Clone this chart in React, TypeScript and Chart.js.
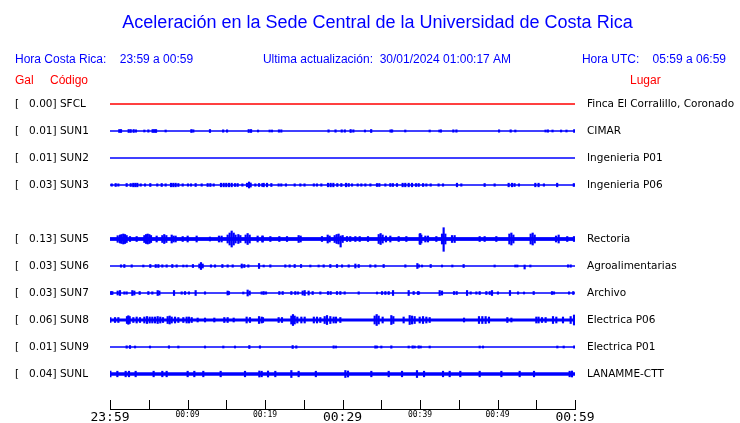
import React, { useEffect, useRef } from 'react';
import { Chart, registerables } from 'chart.js';
Chart.register(...registerables);

const TITLE = 'Aceleración en la Sede Central de la Universidad de Costa Rica';
const HORA_CR = 'Hora Costa Rica:    23:59 a 00:59';
const ULTIMA = 'Ultima actualización:  30/01/2024 01:00:17 AM';
const HORA_UTC = 'Hora UTC:    05:59 a 06:59';
const COL_GAL = 'Gal';
const COL_CODE = 'Código';
const COL_PLACE = 'Lugar';

const CODES = ['SFCL', 'SUN1', 'SUN2', 'SUN3', 'SUN5', 'SUN6', 'SUN7', 'SUN8', 'SUN9', 'SUNL'];
const GAL = [0.0, 0.01, 0.01, 0.03, 0.13, 0.03, 0.03, 0.06, 0.01, 0.04];
const PLACES = ['Finca El Corralillo, Coronado', 'CIMAR', 'Ingenieria P01', 'Ingenieria P06', 'Rectoria', 'Agroalimentarias', 'Archivo', 'Electrica P06', 'Electrica P01', 'LANAMME-CTT'];
const ROWS = [0, 1, 2, 3, 5, 6, 7, 8, 9, 10];
const TRACE_COLORS = ['#ff0000', '#0000ff', '#0000ff', '#0000ff', '#0000ff', '#0000ff', '#0000ff', '#0000ff', '#0000ff', '#0000ff'];
// background noise half-width (counts)
const NOISE = [0, 0, 0, 0, 1.35, 0, 0, 1.0, 0, 1.15];
const COUNTS_PER_ROW = 27;

// time axis, minutes after 23:59
const TICK_MINUTES = [0, 5, 10, 15, 20, 25, 30, 35, 40, 45, 50, 55, 60];
const LABEL_MINUTES = [0, 10, 20, 30, 40, 50, 60];
const TIME_LABELS = ['23:59', '00:09', '00:19', '00:29', '00:39', '00:49', '00:59'];
const BIG_LABELS = ['23:59', '00:29', '00:59'];

// bursts: [minute, half-amplitude up, optional half-amplitude down] (counts)
const SFCL_BURSTS: number[][] = [];
const SUN1_BURSTS = [[1.2,1.5],[1.42,1.5],[2.41,1.5],[2.67,1.5],[3.05,1.5],[3.35,1.2],[4.43,1],[4.95,1.2],[5.5,1.5],[5.72,1.5],[5.94,1.5],[7.18,1],[10.5,1.5],[10.75,1.2],[12.9,1.5],[14.6,1.2],[15.1,1.2],[17.9,1.5],[18.2,1.5],[19.1,1],
[20.6,1],[20.9,1],[21.8,1.2],[22.1,1.2],[28.2,1.2],[29.1,1.2],[29.9,1.2],[30.3,1.2],[31.05,1.5],[31.4,1.2],[32.9,1],[33.7,1.5],[36.2,1.2],[36.4,1.2],[38.1,1],
[41.25,1],[42.5,1],[42.7,1.2],[44.3,1.2],[44.7,1.2],[50.2,1.2],[51.7,1.2],[52.3,1],[56.2,1],[56.5,1.2],[57.1,1],[58.2,1],[58.9,1],[59.9,1.5]];
const SUN2_BURSTS: number[][] = [];
const SUN3_BURSTS = [[0.22,1.2],[0.73,1.5],[1.08,1.2],[2.15,1.5],[2.67,1.5],[3.0,1.8],[3.27,1.8],[3.53,1.8],[3.96,1.2],[4.52,1.2],[5.2,1.5],[6.1,1.2],[6.67,1.5],[7.18,1.2],[7.87,1.8],[8.17,1.8],[8.47,1.8],[8.82,1.5],[9.38,1.2],[10.06,1.2],[10.45,1.2],[11.05,1.5],[11.83,1.2],[12.6,1.5],[12.95,1.5],[13.38,1.2],[14.32,1.8],[14.67,1.8],[15.0,1.8],[15.35,1.8],[15.7,1.8],[16.13,1.5],[16.47,1.5],[17.08,1.2],[17.68,1.8],[17.94,3],[18.15,2],[18.75,1.2],[19.23,1.5],[19.66,1.5],
[19.83,1.8],[20.26,1.8],[20.82,1.5],[21.76,1.2],[22.1,1.2],[22.7,1.2],[23.83,1.2],[24.56,1.2],[25.1,1.2],[26.3,1.2],[26.7,1.2],[27.27,1.2],[28.13,1.8],[28.47,1.8],[28.82,1.8],[29.33,1.5],[29.85,1.5],[30.45,1.8],[30.8,1.5],[31.23,1.2],[31.96,1.2],[32.43,1.2],[32.95,1.2],[33.6,1.2],[34.45,1.5],[34.75,1.5],[35.53,1.2],[36.17,1.5],[36.5,1.5],[37.03,1.5],[37.76,1.8],[38.1,1.8],[38.54,1.8],[38.97,1.8],[39.48,1.5],[39.83,1.5],
[40.4,1.5],[40.82,1.2],[41.38,1.2],[42.4,1.2],[42.97,1.2],[44.77,1.8],[45.33,1.2],[48.34,1.5],[49.63,1.2],[51.44,1.8],[51.87,1.8],[52.2,1.5],[52.77,1.2],[54.88,1.8],[55.3,1.8],[55.99,1.2],[57.7,1.8],[59.85,1.5]];
const SUN5_BURSTS = [[0.99,3.3],[1.29,4],[1.5,4.5],[1.72,5],[1.94,4.5],[2.15,3.5],[2.58,2.5],[3.44,2.5],[4.43,3.5],[4.65,4.5],[4.86,5],[5.08,4.5],[5.29,3.5],[6.02,3],[6.75,3.5],[7.0,4.5],[7.27,3.5],[7.96,4],[8.2,3],[8.47,3],[9.38,2.5],[10.02,3],[11.18,3],[12.9,2],[14.06,3],[14.4,3],[15.18,4],[15.44,6],[15.7,8],[15.96,6],[16.2,4],[16.56,4.5],[16.82,3.5],[17.5,4],[17.76,5.5],[18.02,4],[19.05,3],[19.66,3],
[19.7,3],[20.69,2.5],[21.85,2.5],[22.84,2.5],[24.34,3.5],[24.6,3],[27.35,2.5],[28.09,4],[28.34,3],[28.99,3.5],[29.25,4.5],[29.5,5],[29.76,3,8],[30.02,3.5],[30.58,2.5],[31.0,2.5],[31.66,2.5],[32.22,2.5],[33.29,2.5],[34.67,4.5],[34.92,5.5],[35.18,4],[35.61,3],[36.17,3],[37.25,2.5],[38.24,2.5],
[39.96,5],[40.04,5.5],[40.17,4],[40.69,3],[41.03,3],[42.11,2.5],[42.84,5],[43.05,11.3,12.3],[43.27,5],[44.13,3.5],[44.47,3.5],[47.7,2.5],[48.34,2.5],[49.85,2.5],[51.53,5],[51.79,6],[52.05,4],[54.28,5],[54.54,6],[54.8,4],[57.55,3],[57.89,4],[59.0,2.5],[59.87,2.5]];
const SUN6_BURSTS = [[1.42,1.2],[1.85,1.5],[2.8,1.2],[4.3,1],[5.2,1.5],[5.9,1.5],[6.24,1.5],[6.75,1.2],[7.31,1.2],[8.04,1.5],[8.6,1.2],[9.46,1],[9.9,1],[10.7,1.5],[11.53,2],[11.74,3.5],[11.96,2],[13.03,1.2],[13.55,1.2],[14.5,1.5],[15.18,1.2],[15.83,1.2],[17.0,2],[17.33,1.5],[17.85,1.2],[19.23,2.5],
[19.83,1],[20.69,1.2],[22.62,1.2],[23.18,1.2],[23.83,1.5],[24.65,1.5],[25.85,1],[26.92,1],[27.57,1.2],[28.43,1.5],[29.29,1.5],[29.94,1.2],[30.8,1.2],[31.66,2],[32.09,1.5],[33.59,1.2],[34.24,1.2],[35.31,1.5],[38.11,1.2],[39.66,2.5],
[39.87,1.2],[40.26,1],[41.38,1.5],[42.84,1],[44.17,1],[45.63,1.5],[49.63,1],[52.3,1],[52.56,1],[53.5,1,3],[54.24,1],[59.1,1.2],[59.44,1.2]];
const SUN7_BURSTS = [[0.13,1.5],[0.3,1.5],[0.99,2],[1.29,2.5],[1.85,1.2],[2.15,1.2],[2.88,2.5],[3.14,2],[3.83,1.5],[4.95,1.5],[5.46,1.2],[6.15,2.5],[6.37,2],[8.26,2.5],[9.25,1.2],[9.68,1.5],[10.19,1.2],[11.05,2.5],[12.26,1.2],[15.18,2],[15.35,1.5],[17.2,1],[17.76,3],[18.02,2],[19.57,1.2],
[19.83,1.5],[20.13,1.2],[21.85,1.5],[22.28,1.5],[23.4,1.5],[23.91,1.5],[24.26,1.2],[24.86,2],[25.12,2.5],[25.63,2],[26.15,1.5],[27.14,1.2],[28.13,1.5],[28.47,1.5],[29.29,1.5],[29.72,1.5],[30.28,1.2],[32.09,1.2],[34.45,1],[35.1,1.5],[35.53,1.5],[35.96,1.5],[36.52,2.5],[38.54,2.5],[39.18,1.5],[39.74,1.5],
[39.87,1.2],[42.54,2.5],[42.84,2],[44.39,1.5],[44.73,1.5],[46.07,2.5],[46.54,1.2],[47.27,1.2],[47.7,1.5],[48.56,1.5],[49.0,1.5],[49.29,2.5],[50.06,1.2],[51.61,2.5],[52.65,1.2],[53.42,1],[54.67,1.5],[57.03,1.5],[57.29,1.2],[59.23,1.2],[59.78,1.5]];
const SUN8_BURSTS = [[0.05,2.5],[0.65,2.5],[1.08,2.5],[2.19,3.5],[2.37,4.3],[2.54,3.5],[3.01,2.5],[3.44,3],[3.87,2.5],[4.43,3],[4.77,3.5],[5.12,3],[5.46,3],[5.81,3],[6.15,3.5],[6.49,3],[6.84,2.5],[7.44,3.5],[7.7,4],[7.96,3],[8.39,3],[8.82,2.5],[9.46,2.5],[9.89,3],[10.19,3],[10.54,2.5],[11.31,2],[12.26,2],[13.46,2],[14.75,2.5],[15.18,2.5],[15.96,2],[17.63,3],[18.06,2.5],[19.23,3.5],[19.57,3],
[19.74,2.5],[21.76,2.5],[22.19,2.5],[23.4,4],[23.61,5.5],[23.83,4],[24.17,3],[24.69,3],[25.12,3],[26.3,3],[26.71,3],[27.14,2.5],[27.7,3.5],[28.0,4.5],[28.43,3.5],[28.86,3],[29.16,3],[29.72,2.5],[34.15,4],[34.41,5.5],[34.67,4],[35.18,3],[36.3,4.5],[36.56,3.5],[37.89,3],[38.67,4.5],[38.97,4],[39.31,3.5],
[39.96,3],[40.39,3.5],[40.82,3],[41.25,2.5],[45.68,2],[47.61,3.5],[48.04,3.5],[48.47,3.5],[48.9,3],[51.27,2.5],[51.79,2],[55.01,3],[55.3,3],[55.74,2.5],[56.21,2.5],[57.16,3.5],[57.59,3],[58.45,3],[59.44,3.5],[59.87,5]];
const SUN9_BURSTS = [[2.15,1.2],[2.58,1.5],[3.23,1],[5.16,1],[7.61,1.2],[8.82,1],[12.26,1],[14.62,1],[16.13,1],[17.98,1.5],[19.35,1.2],
[23.57,1.5],[24.04,1.2],[28.86,1.2],[29.16,1],[34.24,1.2],[34.45,1],[35.01,1],[36.3,1.2],[38.54,1],[39.05,1.2],[39.31,1],[39.83,1.2],
[40.09,1],[41.25,1],[47.7,1],[48.13,1],[57.72,1],[58.54,1],[59.9,1.2]];
const SUNL_BURSTS = [[0.05,3],[0.95,2.8],[2.02,2.8],[2.45,2.8],[3.31,2.8],[5.63,2.8],[6.75,2.8],[7.31,2.8],[10.02,2.8],[10.88,2.8],[12.04,2.8],[14.28,2.8],[17.42,2.8],[19.27,3],[19.57,2.8],
[20.39,3],[21.33,2.8],[23.4,3.5],[24.34,2.8],[26.56,2.8],[30.37,3.5],[30.71,3],[33.72,2.8],[35.96,2.8],[37.68,2.8],[39.61,3.5],
[40.52,2.8],[42.97,2.8],[43.83,2.8],[45.2,2.8],[47.7,2.8],[50.5,2.8],[52.86,2.8],[54.71,2.8],[59.31,2.8],[59.61,3]];

const BURSTS = [SFCL_BURSTS, SUN1_BURSTS, SUN2_BURSTS, SUN3_BURSTS, SUN5_BURSTS, SUN6_BURSTS, SUN7_BURSTS, SUN8_BURSTS, SUN9_BURSTS, SUNL_BURSTS];

const TEXT_BLUE = '#0000ff';
const TEXT_RED = '#ff0000';
const Y_MIN = -1;
const Y_MAX = 11.296;

function leftLabel(i: number) {
  return '[   ' + GAL[i].toFixed(2) + '] ' + CODES[i];
}

const headerPlugin = {
  id: 'header',
  afterDraw(chart: any) {
    const { ctx, chartArea } = chart;
    ctx.save();
    ctx.font = '12px "Liberation Sans", Arial, sans-serif';
    ctx.textBaseline = 'middle';
    ctx.fillStyle = TEXT_BLUE;
    ctx.textAlign = 'left';
    ctx.fillText(HORA_CR, 15, 60);
    ctx.textAlign = 'center';
    ctx.fillText(ULTIMA, 387, 60);
    ctx.textAlign = 'right';
    ctx.fillText(HORA_UTC, chart.width - 14, 60);
    ctx.fillStyle = TEXT_RED;
    ctx.textAlign = 'left';
    ctx.fillText(COL_GAL, 15, 81);
    ctx.fillText(COL_CODE, 50, 81);
    ctx.fillText(COL_PLACE, 630, 81);
    // upward tick marks on the time axis
    const xs = chart.scales.x;
    ctx.strokeStyle = '#000';
    ctx.lineWidth = 1;
    ctx.beginPath();
    for (const m of TICK_MINUTES) {
      const px = Math.round(xs.getPixelForValue(m)) + 0.5;
      ctx.moveTo(px, chartArea.bottom);
      ctx.lineTo(px, chartArea.bottom - 9);
    }
    ctx.stroke();
    ctx.restore();
  },
};

export default function App() {
  const ref = useRef<HTMLCanvasElement | null>(null);
  useEffect(() => {
    const canvas = ref.current;
    if (!canvas) return;
    const datasets: any[] = [];
    CODES.forEach((code, i) => {
      const row = ROWS[i];
      const n = NOISE[i] / COUNTS_PER_ROW;
      const c = TRACE_COLORS[i];
      datasets.push({
        type: 'line', label: code + ' a', data: [{ x: 0, y: row - n }, { x: 60, y: row - n }],
        borderColor: c, borderWidth: 1, pointRadius: 0, fill: false, yAxisID: 'y',
      });
      datasets.push({
        type: 'line', label: code + ' b', data: [{ x: 0, y: row + n }, { x: 60, y: row + n }],
        borderColor: c, backgroundColor: c, borderWidth: 1, pointRadius: 0, fill: '-1', yAxisID: 'y',
      });
      datasets.push({
        type: 'bar', label: code,
        data: BURSTS[i].map((b) => ({ x: b[0], y: [row - b[1] / COUNTS_PER_ROW, row + (b.length > 2 ? b[2] : b[1]) / COUNTS_PER_ROW] })),
        backgroundColor: c, borderWidth: 0, barThickness: 1.5, grouped: false, yAxisID: 'y',
      });
    });
    const noPad = (s: any) => { s.paddingTop = 0; s.paddingBottom = 0; };
    const chart = new Chart(canvas, {
      type: 'bar',
      data: { datasets },
      plugins: [headerPlugin],
      options: {
        responsive: false,
        animation: false,
        devicePixelRatio: 1,
        layout: { padding: { left: 15, right: 0, top: 0, bottom: 0 } },
        plugins: {
          legend: { display: false },
          tooltip: { enabled: false },
          title: {
            display: true,
            text: TITLE,
            color: TEXT_BLUE,
            font: { family: '"Liberation Sans", Arial, sans-serif', size: 18, weight: 'normal' },
            padding: { top: 12, bottom: 43.4 },
          },
        },
        scales: {
          x: {
            type: 'linear',
            min: 0,
            max: 60,
            offset: false,
            position: 'bottom',
            grid: { display: false, drawTicks: false },
            border: { display: true, color: '#000', width: 1 },
            afterBuildTicks: (s: any) => { s.ticks = TICK_MINUTES.map((v) => ({ value: v })); },
            afterFit: (s: any) => { s.height = 14; s.paddingLeft = 0; s.paddingRight = 0; },
            ticks: {
              autoSkip: false,
              maxRotation: 0,
              padding: 1,
              color: '#000',
              callback: (v: any) => { const k = LABEL_MINUTES.indexOf(Number(v)); return k >= 0 ? TIME_LABELS[k] : ''; },
              font: (ctx: any) => {
                const k = LABEL_MINUTES.indexOf(ctx.tick ? ctx.tick.value : -1);
                const big = k >= 0 && BIG_LABELS.includes(TIME_LABELS[k]);
                return { family: '"DejaVu Sans Mono", monospace', size: big ? 13 : 8 };
              },
            },
          },
          y: {
            type: 'linear',
            reverse: true,
            min: Y_MIN,
            max: Y_MAX,
            position: 'left',
            grid: { display: false, drawTicks: false },
            border: { display: false },
            afterBuildTicks: (s: any) => { s.ticks = ROWS.map((v) => ({ value: v })); },
            afterFit: (s: any) => { s.width = 95; noPad(s); },
            ticks: {
              autoSkip: false,
              crossAlign: 'far',
              padding: 0,
              color: '#000',
              font: { family: '"DejaVu Sans", sans-serif', size: 10.5 },
              callback: (v: any) => { const k = ROWS.indexOf(Number(v)); return k >= 0 ? leftLabel(k) : ''; },
            },
          },
          y2: {
            type: 'linear',
            reverse: true,
            min: Y_MIN,
            max: Y_MAX,
            position: 'right',
            grid: { display: false, drawTicks: false },
            border: { display: false },
            afterBuildTicks: (s: any) => { s.ticks = ROWS.map((v) => ({ value: v })); },
            afterFit: (s: any) => { s.width = 165; noPad(s); },
            ticks: {
              autoSkip: false,
              padding: 12,
              color: '#000',
              font: { family: '"DejaVu Sans", sans-serif', size: 10.5 },
              callback: (v: any) => { const k = ROWS.indexOf(Number(v)); return k >= 0 ? PLACES[k] : ''; },
            },
          },
        },
      } as any,
    });
    return () => chart.destroy();
  }, []);
  return (
    <div style={{ position: 'absolute', left: 0, top: 0, width: 740, height: 423, background: '#fff' }}>
      <canvas ref={ref} width={740} height={423} style={{ width: 740, height: 423, display: 'block' }} />
    </div>
  );
}
